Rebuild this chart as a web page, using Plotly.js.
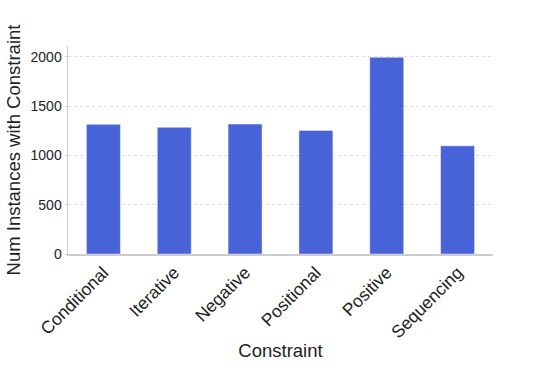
<!DOCTYPE html>
<html>
<head>
<meta charset="utf-8">
<script src="https://cdn.plot.ly/plotly-3.0.1.min.js"></script>
<style>
  body { margin: 0; background: #fff; }
  #chart { width: 548px; height: 392px; }
</style>
</head>
<body>
<div id="chart"></div>
<script>
// Constraint categories and instance counts
const constraints = ['Conditional', 'Iterative', 'Negative', 'Positional', 'Positive', 'Sequencing'];
const numInstances = [1315, 1285, 1318, 1254, 1995, 1097];

const font = 'Liberation Sans, Arial, sans-serif';

const data = [{
    type: 'bar',
    x: constraints,
    y: numInstances,
    marker: {
        color: '#4763d7',
        line: { color: 'rgba(255,255,255,0.45)', width: 1 },
    },
    hoverinfo: 'x+y',
}];

const layout = {
    width: 548,
    height: 392,
    margin: { l: 68, r: 55, t: 46, b: 138 },
    paper_bgcolor: '#fff',
    plot_bgcolor: '#fff',
    bargap: 0.52,
    showlegend: false,
    font: { family: font, color: '#222' },
    xaxis: {
        title: { text: 'Constraint', font: { family: font, size: 18.5, color: '#222' }, standoff: 3 },
        tickangle: -45,
        tickfont: { family: font, size: 17.5, color: '#222' },
        showline: true,
        linecolor: '#cccccc',
        linewidth: 1.5,
        showgrid: false,
        ticks: '',
        range: [-0.5, 5.5],
    },
    yaxis: {
        title: { text: 'Num Instances with Constraint', font: { family: font, size: 18.5, color: '#222' }, standoff: 5 },
        tickfont: { family: font, size: 14, color: '#222' },
        range: [0, 2110],
        tickvals: [0, 500, 1000, 1500, 2000],
        showline: true,
        linecolor: '#cccccc',
        linewidth: 1.5,
        showgrid: true,
        gridcolor: '#dddddd',
        griddash: '3px,3px',
        gridwidth: 1,
        zeroline: false,
        ticks: 'outside',
        ticklen: 2,
        tickcolor: '#cccccc',
    },
};

Plotly.newPlot('chart', data, layout, { displayModeBar: false, staticPlot: true });
</script>
</body>
</html>
